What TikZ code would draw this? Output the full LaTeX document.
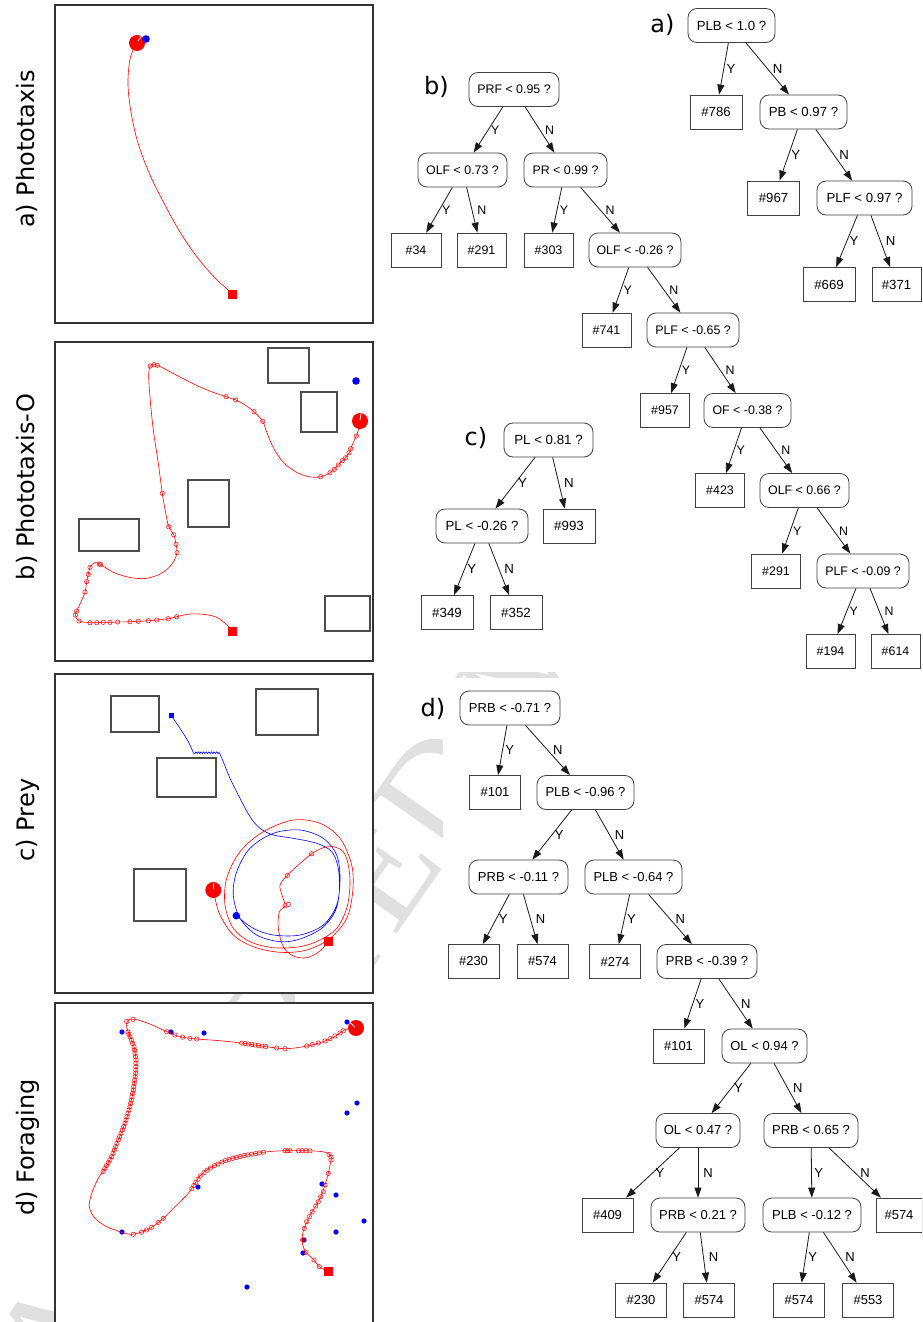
\documentclass[tikz,border=0pt]{standalone}
\usepackage{fontspec}
\setmainfont{Liberation Sans}
\newfontfamily\labelfont{DejaVu Sans}
\newfontfamily\markfont{Liberation Serif}
\usetikzlibrary{arrows.meta,calc}

\newcommand\bigfont{\labelfont\fontsize{24}{28}\selectfont}

\tikzset{
  panel/.style={draw=black!80, line width=1.2pt, fill=white},
  obstacle/.style={draw=black!70, line width=1.1pt},
  track/.style={red, line width=0.6pt},
  ptrack/.style={blue, line width=0.6pt},
  pose/.style={draw=red, line width=0.5pt},
  tick/.style={white, line width=0.8pt},
  dec/.style={draw=black!75, line width=0.8pt, rounded corners=9pt,
      minimum height=34pt, minimum width=#1pt, inner sep=0pt},
  leaf/.style={draw=black!75, line width=0.8pt,
      minimum height=34pt, minimum width=#1pt, inner sep=0pt},
  leaf/.default=51,
  treesize/.style={nodes={font=\fontsize{#1}{#1}\selectfont}},
  link/.style={draw=black!90, line width=0.8pt, -{Triangle[length=10pt,width=7pt]}},
  ylab/.style={anchor=west, inner sep=0pt, xshift=2.5pt},
  nlab/.style={anchor=west, inner sep=0pt, xshift=5pt},
  sidelabel/.style={rotate=90, anchor=base, font=\bigfont},
  treetag/.style={anchor=base, font=\bigfont},
}

\begin{document}
\begin{tikzpicture}[x=1pt,y=-1pt]
\useasboundingbox (0,0) rectangle (922,1322);
\clip (0,0) rectangle (922,1322);
\fill[white] (-10,-10) rectangle (932,1332);

% faint diagonal stamp, only its lower-left part peeks out between the panels and trees
\begin{scope}
\clip (0,672) rectangle (600,1322);
\node[rotate=55, inner sep=0pt, text=black!12, font=\markfont\fontsize{150}{150}\selectfont] (stamp) at (296,992.8) {ACCEPTED M};
\end{scope}
\fill[white] (443,678) rectangle (932,1332);

% ================= left column: trajectories =================
% ---- a) Phototaxis
\node[sidelabel] (la) at (34.5,149) {a) Phototaxis};
\draw[panel] (55,5) rectangle (373,323);
\draw[track] plot[smooth, tension=0.6] coordinates {(232,294)(226,288)(215,278)(197,257)(180,232)(165,205)(150,175)(138,143)(131,112)(128,85)(129.5,62)(133,50)(137,43)};
\fill[red] (227.5,289.5) rectangle (236.5,298.5);
\fill[red] (137,43) circle (8);
\draw[tick] (138,41) -- (142,35.5);
\fill[blue] (146,39) circle (3.8);

% ---- b) Phototaxis-O
\node[sidelabel] (lb) at (34.5,487) {b) Phototaxis-O};
\draw[panel] (55,342) rectangle (373,661);
\draw[obstacle] (268,348) rectangle (309,383);
\draw[obstacle] (301,392) rectangle (337,432);
\draw[obstacle] (188,480) rectangle (229,527);
\draw[obstacle] (79,519) rectangle (139,551);
\draw[obstacle] (325,596) rectangle (370,631);
\draw[track] plot[smooth, tension=0.55] coordinates {(232,631)(227,625)(217,617.5)(205,614.5)(190,614)(176.7,616.7)(168.3,618.7)(156.7,620)(148.3,620.7)(138.3,621.3)(130,621.7)(117.7,622)(110,622.3)(103.3,622.3)(96.7,622.7)(90,622.7)(79,621)(75.3,615)(76.7,611)(80.5,603)(85,592)(86.7,581.7)(88.3,574.3)(90,567.3)(95,562.5)(100,564)(106,568)(115,573)(130,577.5)(145,578.5)(158,575)(168,568.5)(174,561)(177,552.7)(176,544.3)(173.7,534.7)(168.7,526.7)(165.5,512)(162.3,493.3)(158.3,463.3)(153.3,430)(150,397)(148.7,375)(150.3,366)(154,364.7)(157.3,365.3)(163,368)(180,377)(200,387)(215,393)(226,396.7)(235.7,400)(245,405)(254,411.7)(262.7,421.3)(267,433)(274,449)(284,463)(297,472.5)(310,477)(320.7,476.7)(330,472.7)(334.3,469.3)(338.3,465)(342.3,460.7)(345.7,457.7)(349,452.7)(350.7,448.7)(353.5,442)(356.3,436)(359,428)};
\foreach \p in {(150.3,366),(154,364.7),(157.3,365.3),(226,396.7),(235.7,400),(254,411.7),(262.7,421.3),
  (320.7,476.7),(330,472.7),(334.3,469.3),(338.3,465),(342.3,460.7),(345.7,457.7),(349,452.7),(350.7,448.7),(356.3,436),
  (162.3,493.3),(168.7,526.7),(173.7,534.7),(176,544.3),(177,552.7),(99.3,564),(100.7,564.7),
  (90,567.3),(88.3,574.3),(86.7,581.7),(85,592),(76.7,611),(75.3,615),
  (79,621),(90,622.7),(96.7,622.7),(103.3,622.3),(110,622.3),(117.7,622),(130,621.7),(138.3,621.3),(148.3,620.7),(156.7,620),(168.3,618.7),(176.7,616.7)}
  \draw[pose] \p circle (2.2);
\fill[red] (227.5,626.5) rectangle (236.5,635.5);
\fill[red] (360,421) circle (8);
\draw[tick] (360,420) -- (361,413.5);
\fill[blue] (356,381) circle (3.8);

% ---- c) Prey
\node[sidelabel] (lc) at (34.5,820) {c) Prey};
\draw[panel] (55,674) rectangle (373,993);
\draw[obstacle] (111,696) rectangle (159,732);
\draw[obstacle] (256,689) rectangle (318,735);
\draw[obstacle] (157,758) rectangle (216,797);
\draw[obstacle] (134,869) rectangle (186,921);
\draw[ptrack] plot[smooth] coordinates {(171.3,715.7)(180,728.3)(188.3,741.7)(193.3,752.7)};
% jittery stretch along the wall
\draw[ptrack] (193.3,752.7) \foreach \k in {1,...,20} { -- ({193.3+1.3*\k},{751.8+1.8*mod(\k,2)}) };
\draw[ptrack] plot[smooth, tension=0.55] coordinates {(219.3,752.7)(223.3,761.7)(230,778.3)(240,798.3)(250,816.7)(260,828.3)(273.3,835)(293.3,838.3)(316.7,843.3)(331.7,851.7)(338.3,868.3)(339.3,891.7)(335,911.7)(321.7,928.3)(300,939)(280,941.7)(256.7,935)(240,918.3)(233.3,895)(236.7,871.7)(250,848.3)(273.3,833.3)(300,830)(323.3,838.3)(336.7,855)(340,878.3)(336.7,905)(323.3,925)(300,935)(273.3,935)(253.3,928.3)(236.3,915.7)};
\fill[blue] (169,713.4) rectangle (173.6,718);
\draw[track] plot[smooth, tension=0.55] coordinates {(328.3,941.7)(320,951)(306.7,957.7)(293.3,956)(283.3,946.7)(278.3,928.3)(279.3,912)(285,905.7)(282,895)(280,885)(287.3,875.3)(298.3,865)(311.7,853.7)(323.3,847.7)(333.3,846.7)(343.3,851.7)(348.3,865)(350,885)(346.7,908.3)(336.7,928.3)(320,940)(300,946.7)(273.3,947.7)(250,941.7)(233.3,928.3)(225,905)(226.7,878.3)(240,851.7)(263.3,831.7)(293.3,820)(320,823.3)(340,838.3)(351.7,865)(352.7,891.7)(346.7,918.3)(330,938.3)(306.7,950)(280,952.3)(253.3,946.7)(233.3,935)(220,915)(215,898.3)(213.3,890)};
\foreach \p in {(311.7,853.7),(287.3,875.3),(285,905.7),(288.3,904.3)}
  \draw[pose] \p circle (2.2);
\fill[red] (323.8,937.2) rectangle (332.8,946.2);
\fill[red] (213.3,890) circle (8);
\draw[tick] (213.3,889) -- (213.3,882.5);
\fill[blue] (236.3,915.7) circle (3.8);

% ---- d) Foraging
\node[sidelabel] (ld) at (34.5,1147.5) {d) Foraging};
\draw[panel] (55,1003) rectangle (373,1340);
\foreach \p in {(122,1032),(171,1032),(204,1033),(347,1022),(357,1103),(347,1113),(198,1187),(322,1184),
  (336,1195),(364,1221),(336,1232),(122,1232),(304,1240),(303,1253),(247,1287)}
  \fill[blue] \p circle (2.6);
\draw[track] plot[smooth, tension=0.55] coordinates {(328.3,1271.7)(319.3,1266.7)(314,1260)(306,1252.3)(302.5,1244)(302.5,1235)(304.3,1228.3)(309.3,1216.7)(315.7,1206)(320.7,1196.7)(325,1185)(328.3,1173.3)(331,1160)(331,1156)(326,1152.5)(315,1151)(300,1150.7)(285,1150.7)(270,1151.5)(255,1153.5)(240,1156.5)(226.7,1160)(213.3,1166)(201.7,1174)(195,1183.3)(188.3,1193.3)(176.7,1205)(163.3,1218.3)(151.7,1227.3)(140,1232.7)(130,1234.3)(121.7,1232.3)(106.7,1226.7)(95,1218.3)(89.3,1206.7)(91.7,1193.3)(98.3,1178.3)(105,1168.3)(111.7,1156.7)(118.3,1140)(125,1123.3)(130,1106.7)(133.3,1090)(135.7,1073.3)(136,1060)(134,1046.7)(130,1036.7)(126.5,1026)(128.3,1020)(135,1019.3)(150,1024)(166.7,1031.7)(180,1036.7)(196.7,1039)(220,1040.7)(243.3,1043.3)(266.7,1046.7)(285,1048.7)(303.3,1046.7)(320,1042.7)(333.3,1037.3)(343.3,1030.7)(351.7,1027.3)(356,1028)};
% dense run of poses up the left side
\coordinate (f0) at (103,1171.5);
\coordinate (f1) at (111.7,1156.7);
\coordinate (f2) at (118.3,1140);
\coordinate (f3) at (125,1123.3);
\coordinate (f4) at (130,1106.7);
\coordinate (f5) at (133.3,1090);
\coordinate (f6) at (135.7,1073.3);
\coordinate (f7) at (136,1060);
\coordinate (f8) at (134,1046.7);
\coordinate (f9) at (130,1036.7);
\coordinate (f10) at (128,1032);
\draw[pose] (f0) circle (2.2);
\foreach \a/\b/\n in {f0/f1/5,f1/f2/5,f2/f3/5,f3/f4/5,f4/f5/5,f5/f6/5,f6/f7/4,f7/f8/4,f8/f9/3,f9/f10/2}
  \foreach \i in {1,...,\n}
    \draw[pose] ($(\a)!{\i/\n}!(\b)$) circle (2.2);
\foreach \p in {(319.3,1266.7),(314,1260),(306,1252.3),(302.6,1240),(304.3,1228.3),(306.7,1221.7),(309.3,1216.7),
  (312.3,1211.7),(315.7,1206),(318.3,1201.7),(320.7,1196.7),(323.3,1191.7),(325,1185),(328.3,1173.3),(331,1160),
  (331,1157),(329,1154.5),
  (310,1150.8),(306,1150.7),(302,1150.7),(298.5,1150.7),(290,1150.7),(287.5,1150.7),(285,1150.7),
  (263.3,1152.2),(259.5,1152.9),(255.6,1153.5),(251.8,1154.2),(247.9,1154.9),(244,1155.6),(240,1156.5),
  (236.3,1157.4),(232.6,1158.4),(229,1159.4),(225.5,1160.5),(222,1162),(218,1164),(214.5,1165.5),
  (210.5,1168),(207.2,1170.2),(204,1172.5),(200.3,1176),(198,1179.2),(195.8,1182.3),(193.8,1185.5),(191.8,1188.8),
  (163.3,1218.3),(158.3,1222.5),(151.7,1227.3),(146.5,1230),(141.5,1232.2),(133.3,1234.3),
  (126.7,1021.5),(133,1019.3),
  (166.7,1031.7),(175,1035),(182.7,1037.2),(190,1038.3),(196.7,1039),
  (241.7,1043.1),(245,1043.6),(248.3,1044),(251.7,1044.5),(255,1045),(258.3,1045.5),(262,1046),(265.7,1046.5),(276.7,1048),(285,1048.7),
  (306.7,1046),(312.3,1044.5),(318.3,1043),(325,1041),(330,1038.7),(335,1036),(340,1033),(343.3,1030.7)}
  \draw[pose] \p circle (2.2);
\fill[red] (323.8,1267.2) rectangle (332.8,1276.2);
\fill[red] (356,1028) circle (8);
\draw[tick] (355,1027) -- (350,1022.5);

% ================= right column: decision trees =================
% ---- tree a
\begin{scope}[treesize=13.2]
\node[treetag] (ta) at (662.5,33) {a)};
\node[dec=87] (a1) at (731.5,25.5) {PLB < 1.0 ?};
\node[leaf=52] (a2) at (716,112) {\#786};
\node[dec=87] (a3) at (803.5,112) {PB < 0.97 ?};
\node[leaf=52] (a4) at (773.5,198) {\#967};
\node[dec=95] (a5) at (864.5,198) {PLF < 0.97 ?};
\node[leaf=52] (a6) at (829,284.5) {\#669};
\node[leaf=49] (a7) at (896.5,284.5) {\#371};
\draw[link] (a1) -- node[ylab]{Y} (a2);
\draw[link] (a1) -- node[nlab]{N} (a3);
\draw[link] (a3) -- node[ylab]{Y} (a4);
\draw[link] (a3) -- node[nlab]{N} (a5);
\draw[link] (a5) -- node[ylab]{Y} (a6);
\draw[link] (a5) -- node[nlab]{N} (a7);
\end{scope}

% ---- tree b
\begin{scope}[treesize=12.4]
\node[treetag] (tb) at (436.5,95) {b)};
\node[dec=90] (b1) at (514,89.5) {PRF < 0.95 ?};
\node[dec=89] (b2) at (462.5,170) {OLF < 0.73 ?};
\node[dec=83] (b3) at (565.5,170) {PR < 0.99 ?};
\node[leaf=50] (b4) at (416,250) {\#34};
\node[leaf=49] (b5) at (481.5,250) {\#291};
\node[leaf=49] (b6) at (548.5,250) {\#303};
\node[dec=92] (b7) at (635,250) {OLF < -0.26 ?};
\node[leaf=49] (b8) at (606.5,330) {\#741};
\node[dec=92] (b9) at (693,330) {PLF < -0.65 ?};
\node[leaf=49] (b10) at (665,410.5) {\#957};
\node[dec=87] (b11) at (747.5,410.5) {OF < -0.38 ?};
\node[leaf=49] (b12) at (720,490.5) {\#423};
\node[dec=89] (b13) at (804.5,490.5) {OLF < 0.66 ?};
\node[leaf=49] (b14) at (776,571) {\#291};
\node[dec=92] (b15) at (863,571) {PLF < -0.09 ?};
\node[leaf=49] (b16) at (830.5,651.5) {\#194};
\node[leaf=49] (b17) at (895.5,651.5) {\#614};
\draw[link] (b1) -- node[ylab]{Y} (b2);
\draw[link] (b1) -- node[nlab]{N} (b3);
\draw[link] (b2) -- node[ylab]{Y} (b4);
\draw[link] (b2) -- node[nlab]{N} (b5);
\draw[link] (b3) -- node[ylab]{Y} (b6);
\draw[link] (b3) -- node[nlab]{N} (b7);
\draw[link] (b7) -- node[ylab]{Y} (b8);
\draw[link] (b7) -- node[nlab]{N} (b9);
\draw[link] (b9) -- node[ylab]{Y} (b10);
\draw[link] (b9) -- node[nlab]{N} (b11);
\draw[link] (b11) -- node[ylab]{Y} (b12);
\draw[link] (b11) -- node[nlab]{N} (b13);
\draw[link] (b13) -- node[ylab]{Y} (b14);
\draw[link] (b13) -- node[nlab]{N} (b15);
\draw[link] (b15) -- node[ylab]{Y} (b16);
\draw[link] (b15) -- node[nlab]{N} (b17);
\end{scope}

% ---- tree c
\begin{scope}[treesize=13.3]
\node[treetag] (tc) at (476,445.5) {c)};
\node[dec=89] (c1) at (548.5,440) {PL < 0.81 ?};
\node[dec=92] (c2) at (482,526) {PL < -0.26 ?};
\node[leaf=52] (c3) at (569,526) {\#993};
\node[leaf=52] (c4) at (447,612.5) {\#349};
\node[leaf=52] (c5) at (516,612.5) {\#352};
\draw[link] (c1) -- node[ylab]{Y} (c2);
\draw[link] (c1) -- node[nlab]{N} (c3);
\draw[link] (c2) -- node[ylab]{Y} (c4);
\draw[link] (c2) -- node[nlab]{N} (c5);
\end{scope}

% ---- tree d
\begin{scope}[treesize=13]
\node[treetag] (td) at (433,716.5) {d)};
\node[dec=100] (d1) at (510,708) {PRB < -0.71 ?};
\node[leaf] (d2) at (495,792.5) {\#101};
\node[dec=97] (d3) at (585.5,792.5) {PLB < -0.96 ?};
\node[dec=99] (d4) at (518.5,877) {PRB < -0.11 ?};
\node[dec=97] (d5) at (633.5,877) {PLB < -0.64 ?};
\node[leaf] (d6) at (473.5,961.5) {\#230};
\node[leaf] (d7) at (542.5,961.5) {\#574};
\node[leaf] (d8) at (615,961.5) {\#274};
\node[dec=100] (d9) at (707,961.5) {PRB < -0.39 ?};
\node[leaf] (d10) at (678.5,1046) {\#101};
\node[dec=85] (d11) at (764.5,1046) {OL < 0.94 ?};
\node[dec=84] (d12) at (698,1130.5) {OL < 0.47 ?};
\node[dec=94] (d13) at (811,1130.5) {PRB < 0.65 ?};
\node[leaf] (d14) at (607.5,1215) {\#409};
\node[dec=94] (d15) at (698,1215) {PRB < 0.21 ?};
\node[dec=98] (d16) at (812,1215) {PLB < -0.12 ?};
\node[leaf=46] (d17) at (899,1215) {\#574};
\node[leaf] (d18) at (641,1300) {\#230};
\node[leaf] (d19) at (709,1300) {\#574};
\node[leaf] (d20) at (799,1300) {\#574};
\node[leaf] (d21) at (868,1300) {\#553};
\draw[link] (d1) -- node[ylab]{Y} (d2);
\draw[link] (d1) -- node[nlab]{N} (d3);
\draw[link] (d3) -- node[ylab]{Y} (d4);
\draw[link] (d3) -- node[nlab]{N} (d5);
\draw[link] (d4) -- node[ylab]{Y} (d6);
\draw[link] (d4) -- node[nlab]{N} (d7);
\draw[link] (d5) -- node[ylab]{Y} (d8);
\draw[link] (d5) -- node[nlab]{N} (d9);
\draw[link] (d9) -- node[ylab]{Y} (d10);
\draw[link] (d9) -- node[nlab]{N} (d11);
\draw[link] (d11) -- node[ylab]{Y} (d12);
\draw[link] (d11) -- node[nlab]{N} (d13);
\draw[link] (d12) -- node[ylab]{Y} (d14);
\draw[link] (d12) -- node[nlab]{N} (d15);
\draw[link] (d13) -- node[ylab]{Y} (d16);
\draw[link] (d13) -- node[nlab]{N} (d17);
\draw[link] (d15) -- node[ylab]{Y} (d18);
\draw[link] (d15) -- node[nlab]{N} (d19);
\draw[link] (d16) -- node[ylab]{Y} (d20);
\draw[link] (d16) -- node[nlab]{N} (d21);
\end{scope}
\end{tikzpicture}
\end{document}
